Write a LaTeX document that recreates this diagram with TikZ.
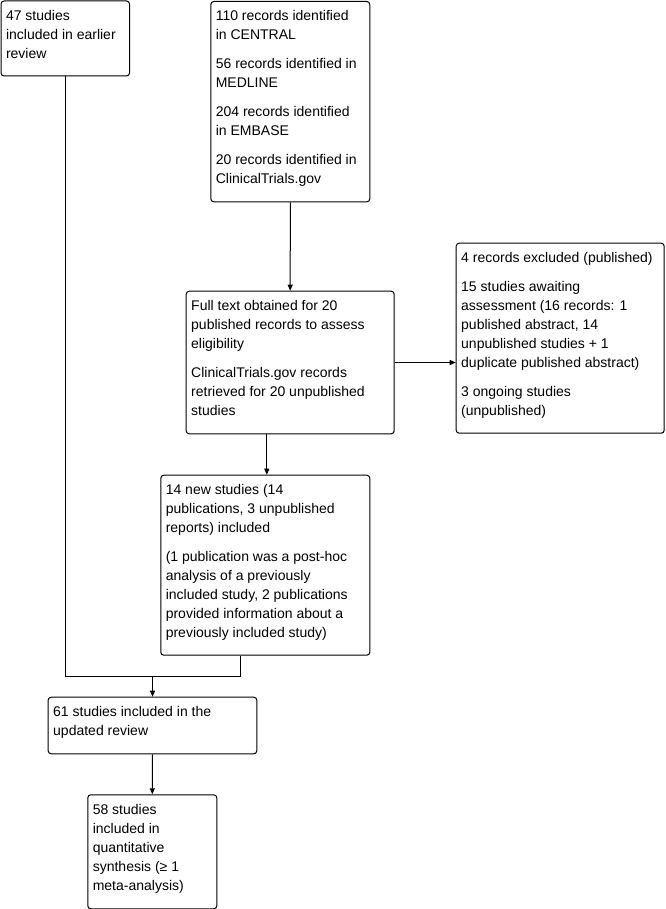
\documentclass[tikz,border=0pt]{standalone}
\usepackage{fontspec}
\setmainfont{Liberation Sans}
\usetikzlibrary{arrows.meta}
\newcommand\bxt[3]{\parbox[t][\dimexpr#2pt\relax][t]{\dimexpr#1pt-10pt\relax}{\fontsize{14pt}{19pt}\selectfont\raggedright\setlength\parskip{10pt}\rule{0pt}{19.5pt}#3}}
\tikzset{
  fbox/.style={draw, line width=1pt, rounded corners=3pt, inner xsep=5pt, inner ysep=0pt, anchor=north west, fill=white},
  conn/.style={line width=1pt},
  arr/.style={line width=1pt, -{Triangle[length=6pt,width=5pt]}},
}
\begin{document}
\begin{tikzpicture}[x=1pt,y=-1pt]
\useasboundingbox (0,0) rectangle (665,909);
\node[fbox] (A) at (0.5,0.5) {\bxt{128.5}{75}{47 studies\\ included in earlier\\ review}};
\node[fbox] (B) at (210.3,1) {\bxt{159}{200.3}{110 records identified\\ in CENTRAL\par 56 records identified in\\ MEDLINE\par 204 records identified\\ in EMBASE\par 20 records identified in\\ ClinicalTrials.gov}};
\node[fbox] (C) at (185.7,290.7) {\bxt{208}{142.6}{Full text obtained for 20\\ published records to assess\\ eligibility\par ClinicalTrials.gov records\\ retrieved for 20 unpublished\\ studies}};
\node[fbox] (D) at (455.7,242.7) {\bxt{208}{190}{4 records excluded (published)\par 15 studies awaiting\\ assessment (16 records: 1\\ published abstract, 14\\ unpublished studies + 1\\ duplicate published abstract)\par 3 ongoing studies\\ (unpublished)}};
\node[fbox] (E) at (160.3,474.7) {\bxt{209}{180}{14 new studies (14\\ publications, 3 unpublished\\ reports) included\par (1 publication was a post-hoc\\ analysis of a previously\\ included study, 2 publications\\ provided information about a\\ previously included study)}};
\node[fbox] (F) at (47.7,696.7) {\bxt{208.6}{56.6}{61 studies included in the\\ updated review}};
\node[fbox] (G) at (87.3,794.3) {\bxt{129}{114}{58 studies\\ included in\\ quantitative\\ synthesis (≥ 1\\ meta-analysis)}};
\coordinate (ej) at ([xshift=-24.5pt]E.south);
\coordinate (mj) at (F.north |- 0,676.3);
\draw[arr] (B.south) -- (C.north);
\draw[arr] (C.east) -- (C.east -| D.west);
\draw[arr] ([xshift=1.5pt]C.south -| E.north) -- ([xshift=1.5pt]E.north);
\draw[conn] (A.south) |- (ej |- mj) -- (ej);
\draw[arr] (mj) -- (F.north);
\draw[arr] (F.south) -- (G.north);
\end{tikzpicture}
\end{document}
